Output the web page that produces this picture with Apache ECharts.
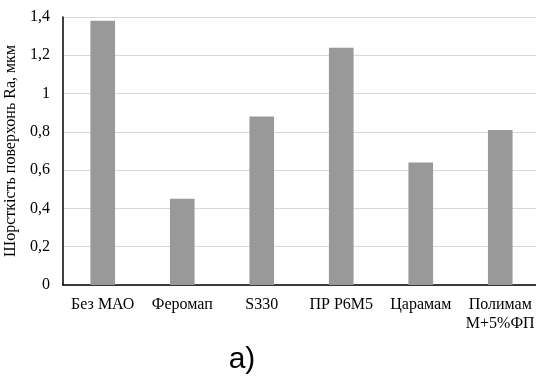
<!DOCTYPE html>
<html><head><meta charset="utf-8">
<script src="https://cdn.jsdelivr.net/npm/echarts@6/dist/echarts.min.js"></script>
<style>html,body{margin:0;padding:0;background:#fff}#c{width:536px;height:376px}</style>
</head><body><div id="c"></div>
<script>
const categories = ['Без МАО', 'Феромап', 'S330', 'ПР Р6М5', 'Царамам', 'Полимам\nM+5%ФП'];
const values = [1.38, 0.45, 0.88, 1.24, 0.64, 0.81];
const yTicks = [0, 0.2, 0.4, 0.6, 0.8, 1, 1.2, 1.4];
const yTitle = 'Шорсткість поверхонь Ra, мкм';
const caption = 'a)';

const chart = echarts.init(document.getElementById('c'), null, {renderer: 'canvas'});
const serif = 'Liberation Serif';
chart.setOption({
  animation: false,
  backgroundColor: '#ffffff',
  grid: {left: 63, top: 17, width: 477, height: 268, containLabel: false, outerBoundsMode: 'none'},
  xAxis: {
    type: 'category', data: categories,
    axisLine: {lineStyle: {color: '#000', width: 1.5}},
    axisTick: {show: false},
    axisLabel: {color: '#000', fontFamily: serif, fontSize: 16, margin: 10, lineHeight: 19, interval: 0}
  },
  yAxis: {
    type: 'value', min: 0, max: 1.4, interval: 0.2,
    name: yTitle, nameLocation: 'middle', nameGap: 39, nameRotate: 90,
    nameTextStyle: {color: '#000', fontFamily: serif, fontSize: 16},
    axisLine: {show: true, lineStyle: {color: '#000', width: 1.5}},
    axisTick: {show: false},
    splitLine: {lineStyle: {color: '#d9d9d9', width: 1}},
    axisLabel: {color: '#000', fontFamily: serif, fontSize: 16, margin: 13,
      formatter: v => { const t = yTicks.find(x => Math.abs(x - v) < 1e-9); return (t === undefined ? v : t).toString().replace('.', ','); }}
  },
  graphic: [{type: 'text', x: 242, y: 360, style: {text: caption, textAlign: 'center', textVerticalAlign: 'middle',
    fontFamily: 'Liberation Sans', fontSize: 30, fill: '#000'}}],
  series: [{type: 'bar', data: values, barWidth: '31%',
    itemStyle: {color: '#999999'}}]
});
</script></body></html>
